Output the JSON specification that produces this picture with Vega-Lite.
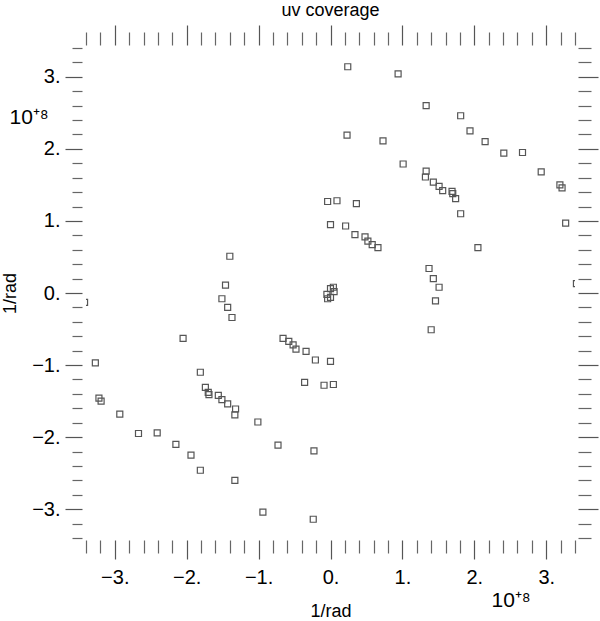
{
  "$schema": "https://vega.github.io/schema/vega-lite/v6.json",
  "width": 489,
  "height": 490,
  "autosize": {"type": "none"},
  "padding": {"left": 86, "top": 48, "right": 25, "bottom": 83},
  "background": "white",
  "title": {"text": "uv coverage", "fontSize": 18, "font": "Liberation Sans", "fontWeight": "normal", "color": "#000", "anchor": "middle", "frame": "group", "offset": 4},
  "data": {"values": [
    {"u": 0.24, "v": 3.14}, {"u": 0.94, "v": 3.04}, {"u": 1.33, "v": 2.60}, {"u": 1.81, "v": 2.46},
    {"u": 1.94, "v": 2.25}, {"u": 2.15, "v": 2.10}, {"u": 2.41, "v": 1.94}, {"u": 2.67, "v": 1.95},
    {"u": 2.93, "v": 1.68}, {"u": 3.19, "v": 1.50}, {"u": 3.22, "v": 1.46}, {"u": 3.27, "v": 0.97},
    {"u": 3.42, "v": 0.13}, {"u": 0.23, "v": 2.19}, {"u": 0.73, "v": 2.11}, {"u": 1.01, "v": 1.79},
    {"u": 1.33, "v": 1.69}, {"u": 1.32, "v": 1.61}, {"u": 1.43, "v": 1.54}, {"u": 1.51, "v": 1.48},
    {"u": 1.56, "v": 1.42}, {"u": 1.69, "v": 1.41}, {"u": 1.70, "v": 1.38}, {"u": 1.74, "v": 1.31},
    {"u": 1.81, "v": 1.10}, {"u": 2.05, "v": 0.63}, {"u": -0.04, "v": 1.27}, {"u": 0.09, "v": 1.28},
    {"u": 0.36, "v": 1.24}, {"u": 0.00, "v": 0.95}, {"u": 0.21, "v": 0.93}, {"u": 0.34, "v": 0.81},
    {"u": 0.48, "v": 0.78}, {"u": 0.52, "v": 0.72}, {"u": 0.58, "v": 0.67}, {"u": 0.66, "v": 0.63},
    {"u": 1.37, "v": 0.34}, {"u": 1.43, "v": 0.20}, {"u": 1.51, "v": 0.08}, {"u": 1.46, "v": -0.11},
    {"u": 1.40, "v": -0.51}, {"u": 0.04, "v": 0.08}, {"u": 0.00, "v": 0.06}, {"u": 0.05, "v": 0.02},
    {"u": -0.24, "v": -3.14}, {"u": -0.94, "v": -3.04}, {"u": -1.33, "v": -2.60}, {"u": -1.81, "v": -2.46},
    {"u": -1.94, "v": -2.25}, {"u": -2.15, "v": -2.10}, {"u": -2.41, "v": -1.94}, {"u": -2.67, "v": -1.95},
    {"u": -2.93, "v": -1.68}, {"u": -3.19, "v": -1.50}, {"u": -3.22, "v": -1.46}, {"u": -3.27, "v": -0.97},
    {"u": -3.42, "v": -0.13}, {"u": -0.23, "v": -2.19}, {"u": -0.73, "v": -2.11}, {"u": -1.01, "v": -1.79},
    {"u": -1.33, "v": -1.69}, {"u": -1.32, "v": -1.61}, {"u": -1.43, "v": -1.54}, {"u": -1.51, "v": -1.48},
    {"u": -1.56, "v": -1.42}, {"u": -1.69, "v": -1.41}, {"u": -1.70, "v": -1.38}, {"u": -1.74, "v": -1.31},
    {"u": -1.81, "v": -1.10}, {"u": -2.05, "v": -0.63}, {"u": 0.04, "v": -1.27}, {"u": -0.09, "v": -1.28},
    {"u": -0.36, "v": -1.24}, {"u": 0.00, "v": -0.95}, {"u": -0.21, "v": -0.93}, {"u": -0.34, "v": -0.81},
    {"u": -0.48, "v": -0.78}, {"u": -0.52, "v": -0.72}, {"u": -0.58, "v": -0.67}, {"u": -0.66, "v": -0.63},
    {"u": -1.37, "v": -0.34}, {"u": -1.43, "v": -0.20}, {"u": -1.51, "v": -0.08}, {"u": -1.46, "v": 0.11},
    {"u": -1.40, "v": 0.51}, {"u": -0.04, "v": -0.08}, {"u": 0.00, "v": -0.06}, {"u": -0.05, "v": -0.02}
  ]},
  "layer": [
    {
      "mark": {"type": "point", "shape": "square", "size": 36, "filled": false, "stroke": "#555", "strokeWidth": 1.2, "clip": true, "opacity": 1},
      "encoding": {
        "x": {"field": "u", "type": "quantitative", "scale": {"domain": [-3.4, 3.4], "nice": false, "zero": false},
          "axis": {"orient": "bottom", "offset": 2, "values": [-3,-2,-1,0,1,2,3], "tickSize": 19,
            "tickColor": "#555", "tickWidth": 1.2,
            "labelExpr": "(datum.value < -0.001 ? '−' : '') + format(round(abs(datum.value)), 'd') + '.'",
            "labelFontSize": 20, "labelPadding": 8, "labelOverlap": false, "labelFlush": false, "labelBaseline": "top",
            "title": "1/rad", "titleFontSize": 18, "titleY": 76, "titleBaseline": "alphabetic"}},
        "y": {"field": "v", "type": "quantitative", "scale": {"domain": [-3.4, 3.4], "nice": false, "zero": false},
          "axis": {"orient": "left", "offset": 4, "values": [-3,-2,-1,0,1,2,3], "tickSize": 17,
            "tickColor": "#555", "tickWidth": 1.2,
            "labelExpr": "(datum.value < -0.001 ? '−' : '') + format(round(abs(datum.value)), 'd') + '.'",
            "labelFontSize": 20, "labelPadding": 5, "labelOverlap": false, "labelFlush": false, "labelBaseline": "middle",
            "title": "1/rad", "titleFontSize": 18, "titleX": -72, "titleY": 245, "titleAlign": "center", "titleBaseline": "middle", "titleAngle": -90}}
      }
    },
    {
      "mark": {"type": "point", "opacity": 0, "clip": true},
      "encoding": {
        "x": {"field": "u", "type": "quantitative",
          "axis": {"orient": "bottom", "offset": 2,
            "values": [-3.4,-3.2,-2.8,-2.6,-2.4,-2.2,-1.8,-1.6,-1.4,-1.2,-0.8,-0.6,-0.4,-0.2,0.2,0.4,0.6,0.8,1.2,1.4,1.6,1.8,2.2,2.4,2.6,2.8,3.2,3.4],
            "tickSize": 13, "tickColor": "#666", "tickWidth": 1.2, "labels": false, "title": null}},
        "y": {"field": "v", "type": "quantitative",
          "axis": {"orient": "left", "offset": 4,
            "values": [-3.4,-3.2,-2.8,-2.6,-2.4,-2.2,-1.8,-1.6,-1.4,-1.2,-0.8,-0.6,-0.4,-0.2,0.2,0.4,0.6,0.8,1.2,1.4,1.6,1.8,2.2,2.4,2.6,2.8,3.2,3.4],
            "tickSize": 10, "tickColor": "#666", "tickWidth": 1.2, "labels": false, "title": null}}
      }
    },
    {
      "mark": {"type": "point", "opacity": 0, "clip": true},
      "encoding": {
        "x": {"field": "u", "type": "quantitative",
          "axis": {"orient": "top", "offset": 3, "values": [-3,-2,-1,0,1,2,3], "tickSize": 20,
            "tickColor": "#555", "tickWidth": 1.2, "labels": false,
            "title": "10⁺⁸", "titleFontSize": 21, "titleX": 405, "titleY": 561, "titleAlign": "left", "titleBaseline": "alphabetic", "titleAngle": 0}},
        "y": {"field": "v", "type": "quantitative",
          "axis": {"orient": "right", "offset": 3, "values": [-3,-2,-1,0,1,2,3], "tickSize": 20,
            "tickColor": "#555", "tickWidth": 1.2, "labels": false,
            "title": "10⁺⁸", "titleFontSize": 21, "titleX": -569, "titleY": 75, "titleAlign": "left", "titleBaseline": "alphabetic", "titleAngle": 0}}
      }
    },
    {
      "mark": {"type": "point", "opacity": 0, "clip": true},
      "encoding": {
        "x": {"field": "u", "type": "quantitative",
          "axis": {"orient": "top", "offset": 3,
            "values": [-3.4,-3.2,-2.8,-2.6,-2.4,-2.2,-1.8,-1.6,-1.4,-1.2,-0.8,-0.6,-0.4,-0.2,0.2,0.4,0.6,0.8,1.2,1.4,1.6,1.8,2.2,2.4,2.6,2.8,3.2,3.4],
            "tickSize": 13, "tickColor": "#666", "tickWidth": 1.2, "labels": false, "title": null}},
        "y": {"field": "v", "type": "quantitative",
          "axis": {"orient": "right", "offset": 3,
            "values": [-3.4,-3.2,-2.8,-2.6,-2.4,-2.2,-1.8,-1.6,-1.4,-1.2,-0.8,-0.6,-0.4,-0.2,0.2,0.4,0.6,0.8,1.2,1.4,1.6,1.8,2.2,2.4,2.6,2.8,3.2,3.4],
            "tickSize": 13, "tickColor": "#666", "tickWidth": 1.2, "labels": false, "title": null}}
      }
    }
  ],
  "resolve": {"axis": {"x": "independent", "y": "independent"}},
  "config": {
    "view": {"stroke": null},
    "axis": {"domain": false, "grid": false, "labelFont": "Liberation Sans", "titleFont": "Liberation Sans", "labelColor": "#000", "titleColor": "#000", "titleFontWeight": "normal"}
  }
}
